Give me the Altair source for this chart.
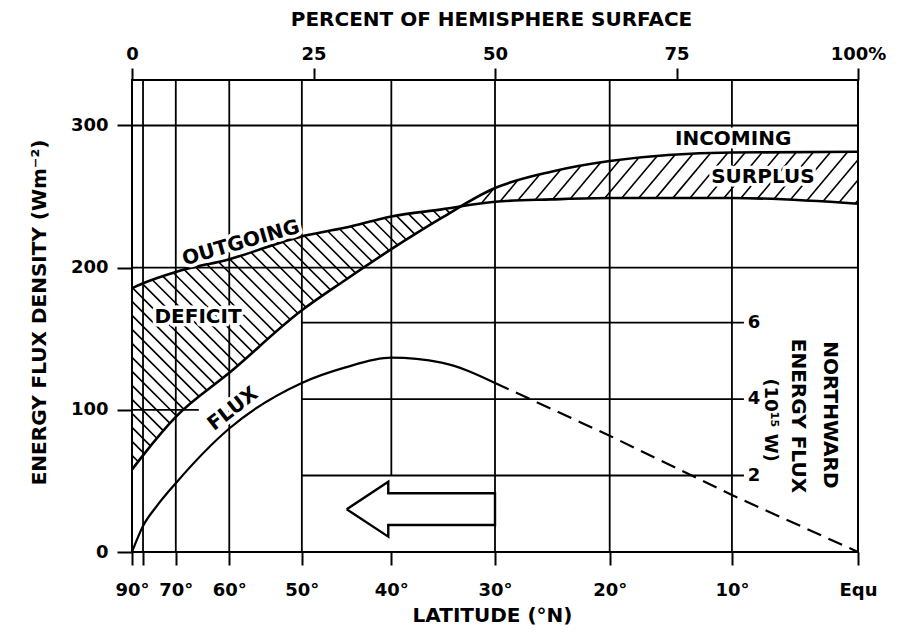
import altair as alt
import numpy as np
import pandas as pd

# ---------------- values ----------------
LAT = [90, 80, 70, 60, 50, 45, 40, 35, 30, 25, 20, 10, 0]
INCOMING = [58, 68, 95, 126, 170, 191, 213, 235, 256, 267.5, 275, 281, 281.5]
OUTGOING = [185.5, 189, 197, 206, 222, 228, 236, 241, 246.4, 248, 249, 249, 245]
FLUX_LAT = [90, 80, 75, 70, 60, 50, 45, 40, 35, 30]
FLUX = [0, 0.68, 1.2, 1.8, 3.23, 4.42, 4.82, 5.08, 4.95, 4.42]      # 10^15 W
FLUX_DASH_LAT = [30, 20, 10, 0]
FLUX_DASH = [4.42, 3.04, 1.49, 0]                                    # 10^15 W

Y_TICKS = [0, 100, 200, 300]
PCT_TICKS = [0, 25, 50, 75, 100]
LAT_TICKS = [90, 80, 70, 60, 50, 40, 30, 20, 10, 0]
GRID_LAT = [80, 70, 60, 50, 40, 30, 20, 10]
H_GRID = [200, 300]
RIGHT_TICKS = [2, 4, 6]
FLUX_UNIT = 26.9   # left-axis units per 10^15 W on the inner right axis
Y_MAX = 332

W, H = 726, 472
FONT = "DejaVu Sans"


def pct(lat):
    return 100.0 * (1.0 - np.sin(np.radians(np.asarray(lat, float))))


xs = alt.Scale(domain=[0, 100], nice=False, zero=False)
ys = alt.Scale(domain=[0, Y_MAX], nice=False, zero=False)


def X(f, axis=None):
    return alt.X(f, type="quantitative", scale=xs, axis=axis)


def Y(f, axis=None):
    return alt.Y(f, type="quantitative", scale=ys, axis=axis)


# ---------------- monotone (d3 monotoneX) for hatch clipping ----------------
def monotone(xv, yv, xq):
    xv = np.asarray(xv, float)
    yv = np.asarray(yv, float)
    h = np.diff(xv)
    s = np.diff(yv) / h
    n = len(xv)
    sg = lambda a: -1.0 if a < 0 else 1.0
    t = np.zeros(n)
    for i in range(1, n - 1):
        p = (s[i - 1] * h[i] + s[i] * h[i - 1]) / (h[i - 1] + h[i])
        t[i] = (sg(s[i - 1]) + sg(s[i])) * min(abs(s[i - 1]), abs(s[i]), 0.5 * abs(p))
    t[0] = (3 * s[0] - t[1]) / 2
    t[-1] = (3 * s[-1] - t[-2]) / 2
    k = np.clip(np.searchsorted(xv, xq, side="right") - 1, 0, n - 2)
    hh = h[k]
    u = (xq - xv[k]) / hh
    h00 = 2 * u**3 - 3 * u**2 + 1
    h10 = u**3 - 2 * u**2 + u
    h01 = -2 * u**3 + 3 * u**2
    h11 = u**3 - u**2
    return h00 * yv[k] + h10 * hh * t[k] + h01 * yv[k + 1] + h11 * hh * t[k + 1]


P = pct(LAT)
grid = np.linspace(0, 100, 5001)
inc_d = monotone(P, INCOMING, grid)
out_d = monotone(P, OUTGOING, grid)
PX_PCT = W / 100.0
PX_UNIT = H / Y_MAX

hatch_rows = []


def add_hatch(sign, spacing_px, angle_deg, lo, hi):
    tn = np.tan(np.radians(angle_deg))
    slope = tn * PX_PCT / PX_UNIT
    step = tn * spacing_px / PX_UNIT
    for c in np.arange(-2000, 2000, step):
        v = c + sign * slope * grid
        idx = np.nonzero((v > lo) & (v < hi))[0]
        if len(idx) < 2:
            continue
        br = np.nonzero(np.diff(idx) > 1)[0]
        starts = np.r_[idx[0], idx[br + 1]]
        ends = np.r_[idx[br], idx[-1]]
        for a, b in zip(starts, ends):
            if b - a < 3:
                continue
            hatch_rows.append(dict(p=grid[a], v=v[a], p2=grid[b], v2=v[b]))


add_hatch(-1, 14, 45, inc_d, out_d)   # deficit
add_hatch(+1, 17, 50, out_d, inc_d)   # surplus
hatch_df = pd.DataFrame(hatch_rows)

# ---------------- tables ----------------
curves = pd.DataFrame({"p": P, "inc": INCOMING, "out": OUTGOING})
flux_df = pd.DataFrame({"p": pct(FLUX_LAT), "v": np.array(FLUX) * FLUX_UNIT})
flux_dash_df = pd.DataFrame({"p": pct(FLUX_DASH_LAT), "v": np.array(FLUX_DASH) * FLUX_UNIT})

vgrid = pd.DataFrame({
    "p": pct(GRID_LAT),
    "v": [2 * FLUX_UNIT if l == 40 else 0 for l in GRID_LAT],
    "v2": [Y_MAX] * len(GRID_LAT),
})
hgrid = pd.DataFrame({"v": H_GRID + [100], "p": [0, 0, 0], "p2": [100, 100, 9.2]})
rgrid = pd.DataFrame({
    "v": np.array(RIGHT_TICKS) * FLUX_UNIT,
    "p": pct(50),
    "p2": pct(10) + 12 / PX_PCT,
})
rlab = pd.DataFrame({
    "v": np.array(RIGHT_TICKS) * FLUX_UNIT,
    "p": pct(10) + 22 / PX_PCT,
    "t": [str(t) for t in RIGHT_TICKS],
})

ARROW = [(29.57, 30.0), (35.3, 49.4), (35.3, 41.3), (50.0, 41.3),
         (50.0, 19.0), (35.3, 19.0), (35.3, 10.8), (29.57, 30.0)]
arrow_df = pd.DataFrame({"p": [a[0] for a in ARROW], "v": [a[1] for a in ARROW],
                         "o": list(range(len(ARROW)))})

LABELS = [
    ("OUTGOING", 15.0, 217.3, 344, 20),
    ("DEFICIT", 9.1, 165.3, 0, 20),
    ("FLUX", 13.9, 100.6, 322, 20),
    ("INCOMING", 82.8, 290.5, 0, 20),
    ("SURPLUS", 86.9, 263.8, 0, 20),
    ("NORTHWARD", 96.1, 96.4, 90, 20),
    ("ENERGY FLUX", 91.7, 95.7, 90, 20),
    ("(10¹⁵ W)", 87.9, 92.8, 90, 18),
]

# ---------------- axes ----------------
common = dict(domain=False, grid=False, tickColor="black", tickWidth=2,
              labelFont=FONT, labelFontSize=18, labelFontWeight="bold", labelColor="black",
              titleFont=FONT, titleFontSize=20, titleFontWeight="bold", titleColor="black",
              labelFlush=False, labelOverlap=False)

lat_expr = "round(asin(1 - datum.value / 100) * 180 / PI)"
bottom_axis = alt.Axis(
    orient="bottom", values=[float(v) for v in pct(LAT_TICKS)],
    labelExpr=f"datum.value > 99.9 ? 'Equ' : ({lat_expr} == 80 ? '' : {lat_expr} + '°')",
    tickSize=13, labelPadding=16,
    title="LATITUDE (°N)", titleX=W / 2 - 3, titleY=63, titleBaseline="middle", titleAlign="center",
    **common)
top_axis = alt.Axis(
    orient="top", values=PCT_TICKS,
    labelExpr="datum.value == 100 ? '100%' : datum.label",
    tickSize=12, labelPadding=5,
    title="PERCENT OF HEMISPHERE SURFACE", titleX=W / 2 - 4, titleY=-61,
    titleBaseline="middle", titleAlign="center", **common)
left_axis = alt.Axis(
    orient="left", values=Y_TICKS, tickSize=15, labelPadding=9,
    title="ENERGY FLUX DENSITY (Wm⁻²)", titleAngle=270, titleX=-93, titleY=H / 2 - 4,
    titleBaseline="middle", titleAlign="center", **common)

# ---------------- layers ----------------
layers = []

layers.append(alt.Chart(hatch_df).mark_rule(color="black", strokeWidth=1.6).encode(
    x=X("p"), y=Y("v"), x2=alt.X2("p2"), y2=alt.Y2("v2")))

layers.append(alt.Chart(vgrid).mark_rule(color="black", strokeWidth=1.8).encode(
    x=X("p"), y=Y("v"), y2=alt.Y2("v2")))
layers.append(alt.Chart(hgrid).mark_rule(color="black", strokeWidth=1.8).encode(
    y=Y("v"), x=X("p"), x2=alt.X2("p2")))
layers.append(alt.Chart(rgrid).mark_rule(color="black", strokeWidth=1.8).encode(
    y=Y("v"), x=X("p"), x2=alt.X2("p2")))

layers.append(alt.Chart(curves).mark_line(color="black", strokeWidth=2.6, interpolate="monotone").encode(
    x=X("p", bottom_axis), y=Y("inc", left_axis)))
layers.append(alt.Chart(curves).mark_line(color="black", strokeWidth=2.6, interpolate="monotone").encode(
    x=X("p", top_axis), y=Y("out")))
layers.append(alt.Chart(flux_df).mark_line(color="black", strokeWidth=2.2, interpolate="monotone").encode(
    x=X("p"), y=Y("v")))
layers.append(alt.Chart(flux_dash_df).mark_line(color="black", strokeWidth=2.2, strokeDash=[15, 8]).encode(
    x=X("p"), y=Y("v")))

layers.append(alt.Chart(arrow_df).mark_line(color="black", strokeWidth=2.4, strokeJoin="miter").encode(
    x=X("p"), y=Y("v"), order="o:Q"))

layers.append(alt.Chart(rlab).mark_text(font=FONT, fontSize=18, fontWeight="bold", color="black",
                                        align="center", baseline="middle").encode(
    x=X("p"), y=Y("v"), text="t:N"))

for txt, px, py, ang, fs in LABELS:
    d = pd.DataFrame({"p": [px], "v": [py], "t": [txt]})
    layers.append(alt.Chart(d).mark_text(font=FONT, fontSize=fs, fontWeight="bold", fill="white",
                                         stroke="white", strokeWidth=7, strokeJoin="round",
                                         angle=ang, align="center", baseline="middle").encode(
        x=X("p"), y=Y("v"), text="t:N"))
    layers.append(alt.Chart(d).mark_text(font=FONT, fontSize=fs, fontWeight="bold", color="black",
                                         angle=ang, align="center", baseline="middle").encode(
        x=X("p"), y=Y("v"), text="t:N"))

chart = alt.layer(*layers).resolve_axis(x="independent", y="independent").properties(
    width=W, height=H,
    padding={"left": 124, "top": 72, "right": 30, "bottom": 73},
    autosize=alt.AutoSizeParams(type="none"),
    background="white",
).configure_view(stroke="black", strokeWidth=2)

chart.save("out.html", embed_options={"renderer": "svg", "actions": False})
